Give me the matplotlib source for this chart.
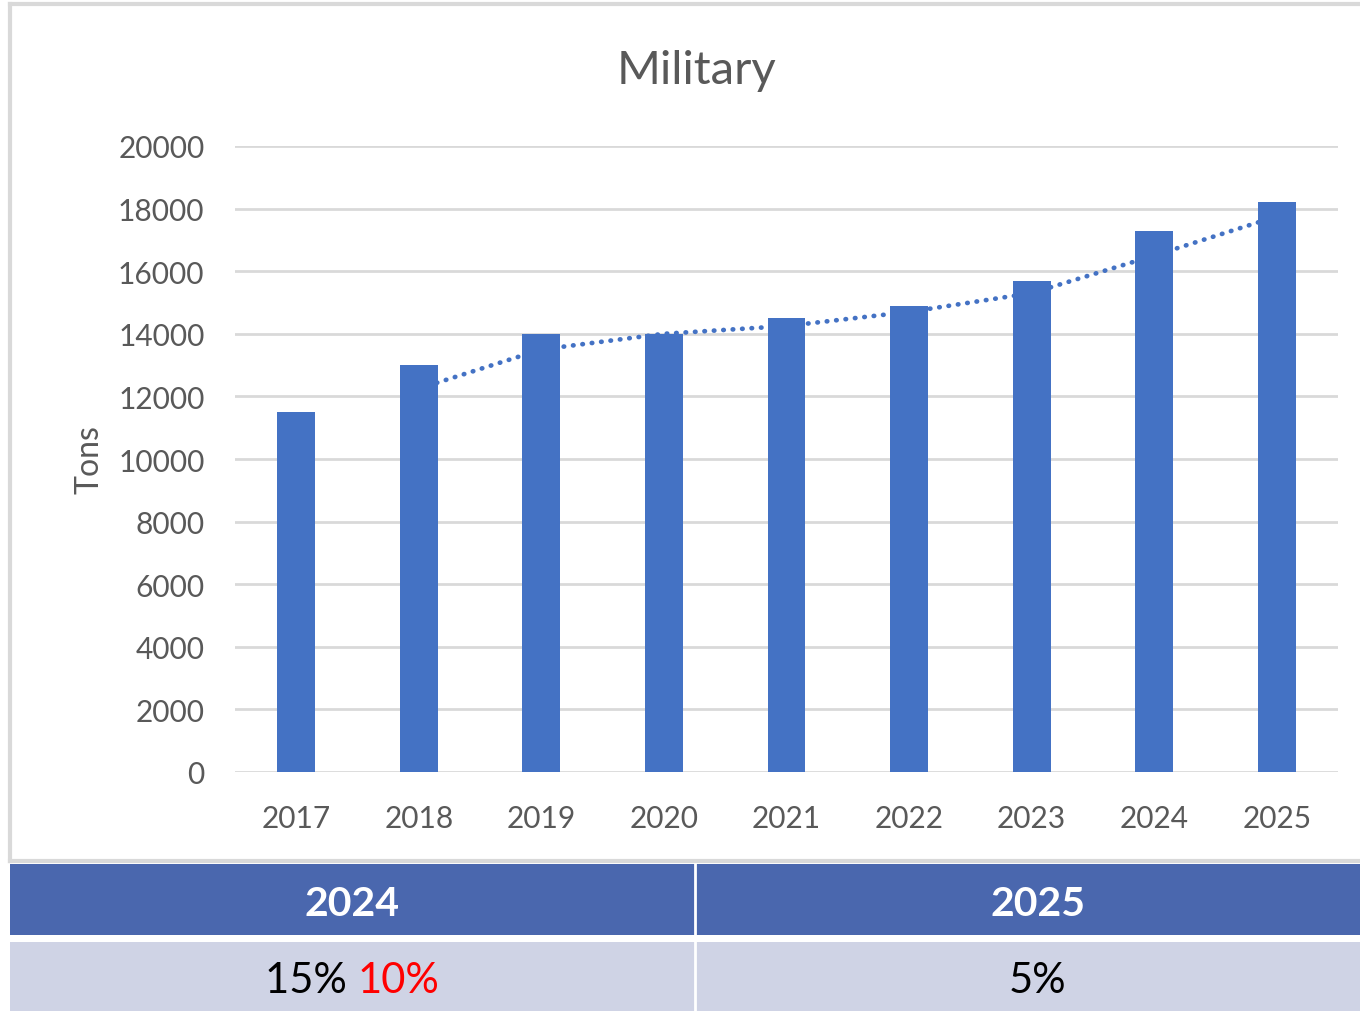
"""Military tonnage bar chart with moving-average trend and summary table."""

import numpy as np
import matplotlib
matplotlib.use("Agg")
import matplotlib.pyplot as plt
from matplotlib.patches import Rectangle

years = ["2017", "2018", "2019", "2020", "2021", "2022", "2023", "2024", "2025"]
tons = [11500, 13000, 14000, 14000, 14500, 14900, 15700, 17300, 18200]
y_ticks = [0, 2000, 4000, 6000, 8000, 10000, 12000, 14000, 16000, 18000, 20000]

table_header = ["2024", "2025"]
table_main = ["15%", "5%"]
table_revised = ["10%", ""]

BAR = "#4472C4"
GRID = "#D9D9D9"
TXT = "#595959"
FONT = ["Lato", "DejaVu Sans"]

plt.rcParams["font.family"] = FONT

fig = plt.figure(figsize=(13.6, 10.12), dpi=100)
W, H = 1360, 1012

# outer chart frame
frame = fig.add_axes([10 / W, (H - 862) / H, 1360 / W, 857 / H])
frame.set_xticks([])
frame.set_yticks([])
for s in frame.spines.values():
    s.set_color(GRID)
    s.set_linewidth(3)
frame.patch.set_facecolor("white")

ax = fig.add_axes([235 / W, (H - 773) / H, 1103 / W, 626 / H])
ax.patch.set_alpha(0)
x = np.arange(len(years))

# 2-period moving average trend line (behind the bars)
ma = [(tons[i - 1] + tons[i]) / 2 for i in range(1, len(tons))]
ax.plot(x[1:], ma, color=BAR, linestyle=(0, (0.1, 1.9)), linewidth=3.4,
        dash_capstyle="round", zorder=2)
ax.bar(x, tons, width=0.31, color=BAR, zorder=3)

ax.set_xlim(-0.5, len(years) - 0.5)
ax.set_ylim(0, 20000)
ax.set_yticks(y_ticks)
ax.set_yticklabels([str(v) for v in y_ticks])
ax.set_xticks(x)
ax.set_xticklabels(years)
ax.tick_params(axis="both", length=0, labelsize=21.5, colors=TXT)
ax.tick_params(axis="x", pad=23)
ax.tick_params(axis="y", pad=22)
ax.grid(axis="y", color=GRID, linewidth=2, zorder=0)
for s in ax.spines.values():
    s.set_visible(False)
ax.set_ylabel("Tons", fontsize=23, color=TXT, labelpad=10)

fig.text(697 / W, 1 - 71 / H, "Military", ha="center", va="center",
         fontsize=34, color=TXT)

# summary table below the chart
tab = fig.add_axes([0, 0, 1, 150 / H])
tab.set_xlim(0, W)
tab.set_ylim(0, 150)
tab.axis("off")
col_edges = [10, 695, 1380]
for i in range(2):
    x0, x1 = col_edges[i], col_edges[i + 1]
    tab.add_patch(Rectangle((x0, 76), x1 - x0, 71, color="#4A67AE", lw=0))
    tab.add_patch(Rectangle((x0, 0), x1 - x0, 69, color="#CFD3E5", lw=0))
    cx = (x0 + x1) / 2
    tab.text(cx, 107, table_header[i], ha="center", va="center",
             fontsize=29.5, fontweight="bold", color="white")
tab.plot([695, 695], [0, 147], color="white", lw=2)

fig.canvas.draw()
r = fig.canvas.get_renderer()
for i in range(2):
    cx = (col_edges[i] + col_edges[i + 1]) / 2
    main = table_main[i]
    extra = table_revised[i]
    if extra:
        t1 = tab.text(0, 0, main + " ", fontsize=30, color="black")
        t2 = tab.text(0, 0, extra, fontsize=30, color="red")
        w1 = t1.get_window_extent(r).width
        w2 = t2.get_window_extent(r).width
        start = cx - (w1 + w2) / 2
        t1.set_position((start, 31))
        t1.set_va("center")
        t2.set_position((start + w1, 31))
        t2.set_va("center")
    else:
        tab.text(cx, 31, main, ha="center", va="center", fontsize=30,
                 color="black")

fig.savefig("out.png", dpi=100)
